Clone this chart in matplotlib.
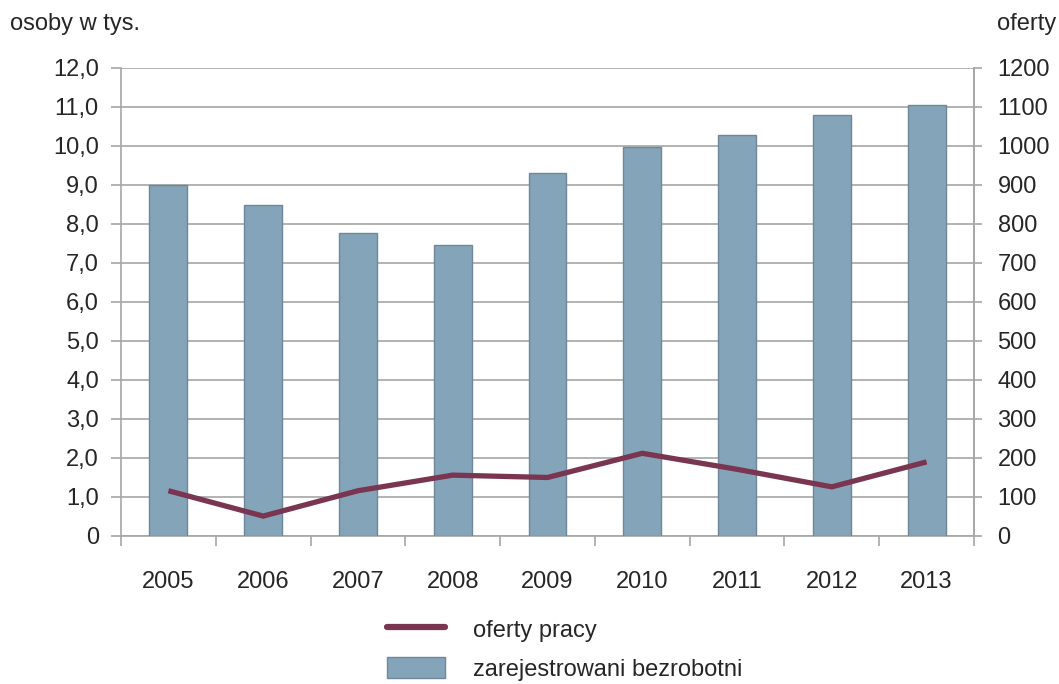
import matplotlib.pyplot as plt
import numpy as np
from matplotlib.patches import Patch
from matplotlib.lines import Line2D

years = ["2005", "2006", "2007", "2008", "2009", "2010", "2011", "2012", "2013"]
unemployed = [9.0, 8.49, 7.77, 7.46, 9.31, 9.97, 10.28, 10.79, 11.05]
job_offers = [116, 51, 116, 156, 150, 212, 171, 126, 190]
left_ticks = [0, 1, 2, 3, 4, 5, 6, 7, 8, 9, 10, 11, 12]
left_labels = ["0"] + ["{:.1f}".format(v).replace(".", ",") for v in left_ticks[1:]]
right_ticks = [0, 100, 200, 300, 400, 500, 600, 700, 800, 900, 1000, 1100, 1200]

BAR = "#84A4B9"
BAR_EDGE = "#6F8799"
LINE = "#7A3550"
GRID = "#A6A6A6"
TEXT = "#262626"
FS = 17

plt.rcParams["font.family"] = ["Liberation Sans", "DejaVu Sans"]
plt.rcParams["font.size"] = FS

fig = plt.figure(figsize=(10.59, 6.84), dpi=100)
ax = fig.add_axes([0.1143, 0.2164, 0.8054, 0.6842])
x = np.arange(len(years))

# bars on the left axis
ax.bar(x, unemployed, width=0.4, color=BAR, edgecolor=BAR_EDGE, linewidth=1.0, zorder=3)
ax.set_xlim(-0.5, len(years) - 0.5)
ax.set_ylim(0, 12)
ax.set_yticks(left_ticks)
ax.set_yticklabels(left_labels)
ax.grid(axis="y", color=GRID, linewidth=1.2, zorder=0)
ax.set_axisbelow(True)

# labels at centres, tick marks between categories
ax.set_xticks(x)
ax.set_xticklabels(years)
ax.set_xticks(np.arange(-0.5, len(years)), minor=True)
ax.tick_params(axis="x", which="major", length=0, pad=25, colors=TEXT, labelsize=FS)
ax.tick_params(axis="x", which="minor", length=7, width=1.2, color=GRID, direction="out")
ax.tick_params(axis="y", length=7, width=1.2, color=GRID, pad=9, labelcolor=TEXT, labelsize=FS)

ax.spines["top"].set_visible(False)
for side in ["left", "right", "bottom"]:
    ax.spines[side].set_color(GRID)
    ax.spines[side].set_linewidth(1.2)

# line on the right axis
ax2 = ax.twinx()
ax2.plot(x, job_offers, color=LINE, linewidth=3.8, solid_capstyle="butt", solid_joinstyle="miter", zorder=4)
ax2.set_ylim(0, 1200)
ax2.set_yticks(right_ticks)
ax2.tick_params(axis="y", length=6, width=1.2, color=GRID, pad=11, labelcolor=TEXT, labelsize=FS)
for side in ["top", "left", "bottom"]:
    ax2.spines[side].set_visible(False)
ax2.spines["right"].set_color(GRID)
ax2.spines["right"].set_linewidth(1.2)

fig.text(0.009, 0.965, "osoby w tys.", fontsize=FS, color=TEXT, ha="left", va="center")
fig.text(0.997, 0.965, "oferty", fontsize=FS, color=TEXT, ha="right", va="center")

handles = [
    Line2D([0], [0], color=LINE, linewidth=4.5, solid_capstyle="round"),
    Patch(facecolor=BAR, edgecolor=BAR_EDGE, linewidth=1.0),
]
fig.legend(handles, ["oferty pracy", "zarejestrowani bezrobotni"],
           loc="upper left", bbox_to_anchor=(0.3654, 0.0965), frameon=False,
           handlelength=2.46, handleheight=1.0, handletextpad=1.19, labelspacing=0.65,
           fontsize=FS, labelcolor=TEXT, borderaxespad=0, borderpad=0)

fig.savefig("out.png", dpi=100)
